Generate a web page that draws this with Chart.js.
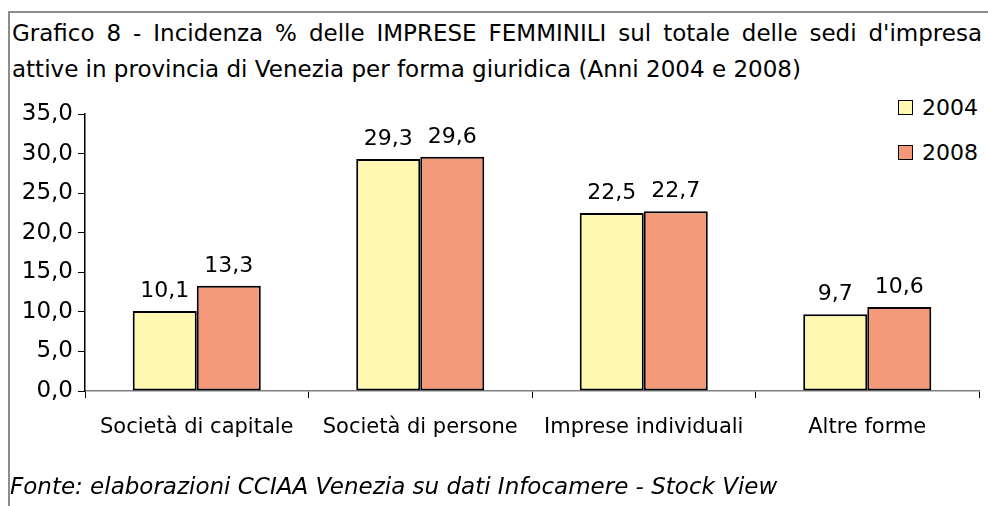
<!DOCTYPE html>
<html>
<head>
<meta charset="utf-8">
<script src="https://cdn.jsdelivr.net/npm/chart.js@4/dist/chart.umd.min.js"></script>
<style>
  html, body { margin: 0; padding: 0; background: #fff; }
  body { width: 988px; height: 506px; position: relative; overflow: hidden;
         font-family: 'DejaVu Sans', sans-serif; color: #000; }
  #frame { position: absolute; left: 8px; top: 11px; width: 1000px; height: 520px;
           border-left: 2px solid #8c8c8c; border-top: 2px solid #8c8c8c; }
  #title { position: absolute; left: 12px; top: 15px; width: 970px;
           font-size: 23px; line-height: 36px; }
  #title .l1 { text-align: justify; text-align-last: justify; white-space: nowrap; }
  #footer { position: absolute; left: 10px; top: 473px; font-size: 23px; font-style: italic; }
  #legend { position: absolute; left: 898px; top: 85px; font-size: 22px; }
  .lg { display: flex; align-items: center; height: 45px; }
  .sw { width: 13px; height: 13px; border: 1.5px solid #000; margin-right: 9px; }
  canvas { position: absolute; left: 0; top: 0; }
</style>
</head>
<body>
<div id="frame"></div>
<div id="title">
  <div class="l1">Grafico 8 - Incidenza % delle IMPRESE FEMMINILI sul totale delle sedi d'impresa</div>
  <div>attive in provincia di Venezia per forma giuridica (Anni 2004 e 2008)</div>
</div>
<div id="legend"></div>
<canvas id="chart" width="988" height="506"></canvas>
<div id="footer">Fonte: elaborazioni CCIAA Venezia su dati Infocamere - Stock View</div>
<script>
// ── data ──
const categories = ['Società di capitale', 'Società di persone', 'Imprese individuali', 'Altre forme'];
const years = ['2004', '2008'];
const values2004 = [10.1, 29.3, 22.5, 9.7];
const values2008 = [13.3, 29.6, 22.7, 10.6];
const yTicks = [0, 5, 10, 15, 20, 25, 30, 35];

const COLORS = ['#FFF8B0', '#F4987A'];
const FONT = "'DejaVu Sans', sans-serif";
const fmt = v => v.toFixed(1).replace('.', ',');

// value labels above each bar
const barLabels = {
  id: 'barLabels',
  afterDatasetsDraw(chart) {
    const ctx = chart.ctx;
    ctx.save();
    ctx.font = '22px ' + FONT;
    ctx.fillStyle = '#000';
    ctx.textAlign = 'center';
    ctx.textBaseline = 'alphabetic';
    chart.data.datasets.forEach((ds, i) => {
      chart.getDatasetMeta(i).data.forEach((bar, j) => {
        ctx.fillText(fmt(ds.data[j]), bar.x, bar.y - 14);
      });
    });
    ctx.restore();
  }
};

const chart = new Chart(document.getElementById('chart'), {
  type: 'bar',
  data: {
    labels: categories,
    datasets: [
      { label: years[0], data: values2004, backgroundColor: COLORS[0] },
      { label: years[1], data: values2008, backgroundColor: COLORS[1] },
    ].map(d => Object.assign(d, {
      borderColor: '#000', borderWidth: 2, borderSkipped: false,
      categoryPercentage: 0.573, barPercentage: 1
    }))
  },
  options: {
    responsive: false, animation: false,
    layout: { padding: { left: 0, right: 9, top: 114, bottom: 55 } },
    plugins: { legend: { display: false }, tooltip: { enabled: false } },
    scales: {
      x: {
        afterFit: s => { s.height = 60; },
        border: { color: '#808080', width: 1.5 },
        grid: { drawOnChartArea: false, tickLength: 7, color: '#000', offset: true },
        ticks: { color: '#000', font: { family: FONT, size: 21 }, padding: 17, maxRotation: 0 }
      },
      y: {
        min: 0, max: 35,
        afterFit: s => { s.width = 85; },
        afterBuildTicks: s => { s.ticks = yTicks.map(v => ({ value: v })); },
        border: { color: '#000', width: 1.5 },
        grid: { drawOnChartArea: false, tickLength: 7, color: '#000' },
        ticks: { color: '#000', font: { family: FONT, size: 23 }, padding: 5,
                 callback: v => fmt(v) }
      }
    }
  },
  plugins: [barLabels]
});

document.getElementById('legend').innerHTML = chart.data.datasets.map(d =>
  `<div class="lg"><div class="sw" style="background:${d.backgroundColor}"></div><span>${d.label}</span></div>`
).join('');
</script>
</body>
</html>
